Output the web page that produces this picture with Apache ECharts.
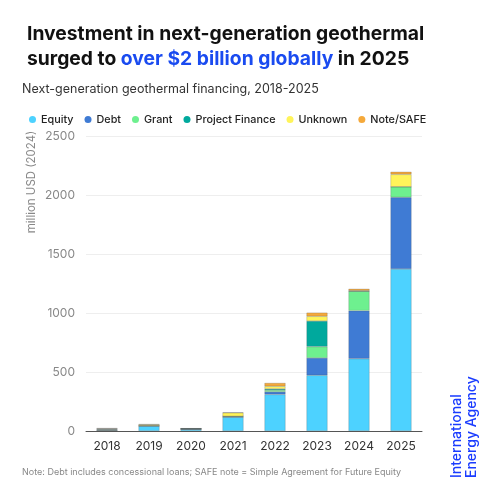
<!DOCTYPE html>
<html><head><meta charset="utf-8">
<script src="https://cdn.jsdelivr.net/npm/echarts@6/dist/echarts.min.js"></script>
<style>html,body{margin:0;padding:0;background:#fff}#c{width:500px;height:500px}</style>
</head><body><div id="c"></div>
<script>
var categories = ['2018','2019','2020','2021','2022','2023','2024','2025'];
var seriesNames = ['Equity','Debt','Grant','Project Finance','Unknown','Note/SAFE'];
var equity = [6, 42, 15, 118, 310, 472, 613, 1373];
var debt = [0, 0, 0, 0, 22, 147, 407, 607];
var grant = [5, 4, 0, 7, 15, 96, 165, 90];
var projectFinance = [5, 0, 6, 0, 10, 217, 0, 0];
var unknown = [5, 9, 0, 30, 22, 40, 5, 105];
var noteSafe = [2, 2, 1, 3, 28, 31, 15, 22];
var yTicks = [0, 500, 1000, 1500, 2000, 2500];
var colors = ['#4dd2ff','#3f7bd4','#6ef08f','#00a99d','#fff45a','#f5a93b'];
var values = [equity, debt, grant, projectFinance, unknown, noteSafe];

var FONT = 'Inter, "Noto Sans", sans-serif';
var chart = echarts.init(document.getElementById('c'), null, {renderer:'canvas'});
var series = seriesNames.map(function(n, i){
  return {
    name: n, type: 'bar', stack: 'total', data: values[i], barWidth: '50%',
    itemStyle: {color: colors[i], borderColor: 'rgba(70,70,70,0.45)', borderWidth: 0.5},
    emphasis: {disabled: true}
  };
});
chart.setOption({
  animation: false,
  textStyle: {fontFamily: FONT},
  title: {
    left: 22, top: 17,
    text: '{a|Investment in next-generation geothermal}\n{a|surged to }{b|over $2 billion globally}{a| in 2025}',
    textStyle: {
      rich: {
        a: {fontFamily: FONT, fontSize: 19.3, fontWeight: 'bold', color: '#111', lineHeight: 25},
        b: {fontFamily: FONT, fontSize: 19.3, fontWeight: 'bold', color: '#1a4bf0', lineHeight: 25}
      }
    }
  },
  legend: {
    left: 24, top: 109, itemWidth: 7, itemHeight: 7, itemGap: 11, icon: 'circle',
    itemStyle: {borderWidth: 0},
    textStyle: {fontFamily: FONT, fontSize: 10.8, fontWeight: 500, color: '#222'},
    data: seriesNames
  },
  grid: {left: 86, right: 78, top: 136, bottom: 69},
  xAxis: {
    type: 'category', data: categories,
    axisLine: {lineStyle: {color: '#555', width: 1}},
    axisTick: {alignWithLabel: true, length: 5, lineStyle: {color: '#555'}},
    axisLabel: {color: '#333', fontSize: 12, margin: 9, fontFamily: FONT}
  },
  yAxis: {
    type: 'value', min: yTicks[0], max: yTicks[yTicks.length-1], interval: yTicks[1]-yTicks[0],
    axisLine: {show: false}, axisTick: {show: false},
    axisLabel: {color: '#888', fontSize: 12, margin: 11, fontFamily: FONT, formatter: function(v){return String(v);}},
    splitLine: {lineStyle: {color: '#eeeeee', width: 1}}
  },
  graphic: [
    {type: 'text', left: 22, top: 83, style: {text: 'Next-generation geothermal financing, 2018-2025', fontFamily: FONT, fontSize: 12.5, fill: '#333'}},
    {type: 'text', x: 32, y: 182, rotation: Math.PI/2, style: {text: 'million USD (2024)', fontFamily: FONT, fontSize: 11.5, fill: '#888', align: 'center', verticalAlign: 'middle'}},
    {type: 'text', left: 22, top: 468, style: {text: 'Note: Debt includes concessional loans; SAFE note = Simple Agreement for Future Equity', fontFamily: FONT, fontSize: 9, fill: '#888'}},
    {type: 'text', x: 464, y: 478, rotation: Math.PI/2, style: {text: 'International\nEnergy Agency', fontFamily: FONT, fontSize: 14, fontWeight: 500, fill: '#1a3cff', align: 'left', verticalAlign: 'middle', lineHeight: 15}}
  ],
  series: series
});
</script></body></html>
